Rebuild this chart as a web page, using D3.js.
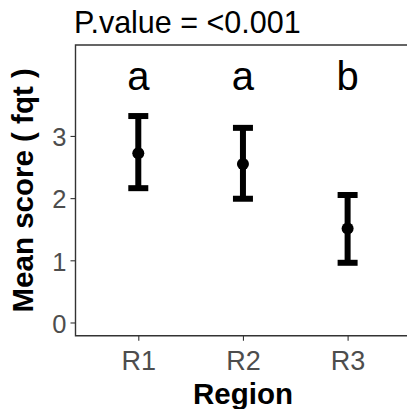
<!DOCTYPE html>
<html>
<head>
<meta charset="utf-8">
<script src="https://cdn.jsdelivr.net/npm/d3@7"></script>
<style>
  body { margin: 0; background: #fff; overflow: hidden; }
  svg { display: block; font-family: "Liberation Sans", Arial, sans-serif; }
</style>
</head>
<body>
<script>
// data
var regions = ["R1", "R2", "R3"];
var means = [2.72, 2.55, 1.51];
var upper = [3.32, 3.13, 2.05];
var lower = [2.16, 1.99, 0.96];
var letters = ["a", "a", "b"];
var letterY = 4;
var yTicks = [0, 1, 2, 3];
var titleText = "P.value = <0.001";

var W = 407, H = 409;
// panel box (right edge falls just outside the window)
var panel = {left: 75.5, right: 410.4, top: 45, bottom: 335.7};

var svg = d3.select("body").append("svg")
    .attr("width", W)
    .attr("height", H);

var x = d3.scalePoint()
    .domain(regions)
    .range([panel.left, panel.right])
    .padding(0.6);

var y = d3.scaleLinear()
    .domain([-0.2125, 4.4625])
    .range([panel.bottom, panel.top]);

// y axis
var yAxis = svg.append("g")
    .attr("transform", "translate(" + panel.left + ",0)")
    .call(d3.axisLeft(y).tickValues(yTicks).tickSize(5).tickPadding(4).tickFormat(d3.format("d")));
yAxis.select(".domain").remove();
yAxis.selectAll("line").attr("stroke", "#333").attr("stroke-width", 1.1);
yAxis.selectAll("text")
    .attr("fill", "#4d4d4d")
    .style("font-size", "25.5px")
    .attr("dy", "0.38em");

// x axis
var xAxis = svg.append("g")
    .attr("transform", "translate(0," + panel.bottom + ")")
    .call(d3.axisBottom(x).tickSize(5).tickPadding(9));
xAxis.select(".domain").remove();
xAxis.selectAll("line").attr("stroke", "#333").attr("stroke-width", 1.1);
xAxis.selectAll("text")
    .attr("fill", "#4d4d4d")
    .style("font-size", "27px")
    .attr("dy", "0.75em");

// panel border: left, top, bottom (right side is cut off by the window)
svg.append("path")
    .attr("d", "M" + panel.right + "," + panel.top +
               "H" + panel.left + "V" + panel.bottom + "H" + panel.right)
    .attr("fill", "none")
    .attr("stroke", "#333")
    .attr("stroke-width", 1.4);

// error bars
var bars = svg.append("g");
regions.forEach(function(r, i) {
    var cx = x(r);
    bars.append("line")
        .attr("x1", cx).attr("x2", cx)
        .attr("y1", y(upper[i])).attr("y2", y(lower[i]))
        .attr("stroke", "#000").attr("stroke-width", 6);
    [upper[i], lower[i]].forEach(function(v) {
        bars.append("line")
            .attr("x1", cx - 10).attr("x2", cx + 10)
            .attr("y1", y(v)).attr("y2", y(v))
            .attr("stroke", "#000").attr("stroke-width", 6);
    });
    bars.append("circle")
        .attr("cx", cx).attr("cy", y(means[i]))
        .attr("r", 6)
        .attr("fill", "#000");
});

// group letters
svg.append("g").selectAll("text")
    .data(letters)
    .enter().append("text")
    .attr("x", function(d, i) { return x(regions[i]); })
    .attr("y", y(letterY) + 16)
    .attr("text-anchor", "middle")
    .style("font-size", "40px")
    .attr("fill", "#000")
    .text(function(d) { return d; });

// title
svg.append("text")
    .attr("x", 74)
    .attr("y", 33)
    .style("font-size", "30.5px")
    .attr("fill", "#000")
    .text(titleText);

// axis titles
svg.append("text")
    .attr("x", (panel.left + panel.right) / 2)
    .attr("y", 404)
    .attr("text-anchor", "middle")
    .style("font-size", "29.5px")
    .style("font-weight", "bold")
    .text("Region");

svg.append("text")
    .attr("transform", "translate(33," + ((panel.top + panel.bottom) / 2) + ") rotate(-90)")
    .attr("text-anchor", "middle")
    .style("font-size", "29.5px")
    .style("font-weight", "bold")
    .text("Mean score ( fqt )");
</script>
</body>
</html>
